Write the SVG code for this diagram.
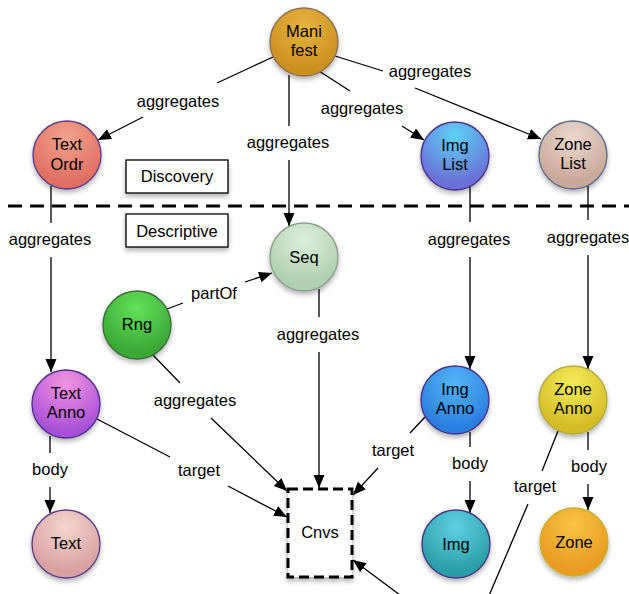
<svg xmlns="http://www.w3.org/2000/svg" width="629" height="594" viewBox="0 0 629 594">
<style>
text{font-family:"Liberation Sans",Arial,sans-serif;font-size:16.5px;fill:#000;text-anchor:middle}
.e{fill:none;stroke:#000;stroke-width:1.3}
.a{marker-end:url(#arr)}
.n{stroke-width:1.3;filter:url(#sh)}
.box{fill:#fff;stroke:#000;stroke-width:1.3;filter:url(#sh)}
</style>
<defs>
<marker id="arr" markerUnits="userSpaceOnUse" markerWidth="14" markerHeight="12" refX="13" refY="5.5" orient="auto"><path d="M0,0 L13,5.5 L0,11 z" fill="#000"/></marker>
<filter id="sh" x="-30%" y="-30%" width="160%" height="170%"><feDropShadow dx="0" dy="3" stdDeviation="2.5" flood-color="#000" flood-opacity="0.3"/></filter>
<radialGradient id="gMan" cx="50%" cy="30%" r="65%"><stop offset="0" stop-color="#e8b43e"/><stop offset="1" stop-color="#c98e1e"/></radialGradient>
<radialGradient id="gTO" cx="50%" cy="25%" r="65%"><stop offset="0" stop-color="#f3a48e"/><stop offset="1" stop-color="#e06e62"/></radialGradient>
<radialGradient id="gIL" cx="50%" cy="20%" r="70%"><stop offset="0" stop-color="#5cd2f4"/><stop offset="1" stop-color="#6a6fd6"/></radialGradient>
<radialGradient id="gZL" cx="50%" cy="25%" r="65%"><stop offset="0" stop-color="#ecd8cc"/><stop offset="1" stop-color="#c8a898"/></radialGradient>
<radialGradient id="gSeq" cx="50%" cy="25%" r="65%"><stop offset="0" stop-color="#dcefdc"/><stop offset="1" stop-color="#aed0ae"/></radialGradient>
<radialGradient id="gRng" cx="50%" cy="25%" r="65%"><stop offset="0" stop-color="#64e05a"/><stop offset="1" stop-color="#3aa834"/></radialGradient>
<radialGradient id="gTA" cx="50%" cy="20%" r="70%"><stop offset="0" stop-color="#f494e0"/><stop offset="1" stop-color="#a850d8"/></radialGradient>
<radialGradient id="gIA" cx="50%" cy="25%" r="65%"><stop offset="0" stop-color="#52b6f8"/><stop offset="1" stop-color="#2c7ee0"/></radialGradient>
<radialGradient id="gZA" cx="50%" cy="25%" r="65%"><stop offset="0" stop-color="#f4ec5a"/><stop offset="1" stop-color="#d4bc26"/></radialGradient>
<radialGradient id="gTx" cx="50%" cy="25%" r="65%"><stop offset="0" stop-color="#f4d6ce"/><stop offset="1" stop-color="#d8a0a0"/></radialGradient>
<radialGradient id="gImg" cx="50%" cy="25%" r="65%"><stop offset="0" stop-color="#5cd0e4"/><stop offset="1" stop-color="#2c9ea6"/></radialGradient>
<radialGradient id="gZn" cx="50%" cy="25%" r="65%"><stop offset="0" stop-color="#f8c442"/><stop offset="1" stop-color="#e89a22"/></radialGradient>
</defs>
<rect width="629" height="594" fill="#fff"/>

<line x1="8" y1="206" x2="629" y2="206" stroke="#000" stroke-width="3" stroke-dasharray="14 8"/>

<g id="connectors">
<path class="e a" d="M273,57 L217,83 M143,117 L98,140"/>
<text x="178" y="107">aggregates</text>
<path class="e a" d="M289,75 L289,126 M289,160 L289,226"/>
<text x="288" y="148">aggregates</text>
<path class="e a" d="M319,71 L350,91 M402,126 L424,140"/>
<text x="362" y="114">aggregates</text>
<path class="e a" d="M335,56 L383,71 M415,88 L541,139"/>
<text x="430" y="77">aggregates</text>
<path class="e a" d="M51,186 L51,223 M51,257 L51,372"/>
<text x="50" y="245">aggregates</text>
<path class="e a" d="M470,186 L470,222 M470,257 L470,369"/>
<text x="469" y="245">aggregates</text>
<path class="e a" d="M588,185 L588,220 M588,255 L588,369"/>
<text x="588" y="243">aggregates</text>
<path class="e a" d="M167,309 L183,303 M245,282 L272,273"/>
<text x="214" y="299">partOf</text>
<path class="e a" d="M319,289 L319,317 M319,352 L319,488"/>
<text x="318" y="340">aggregates</text>
<path class="e a" d="M153,355 L180,383 M211,418 L287,491"/>
<text x="195" y="406">aggregates</text>
<path class="e a" d="M97,419 L170,457 M228,486 L287,517"/>
<text x="199" y="476">target</text>
<path class="e a" d="M425,417 L410,433 M378,468 L353,495"/>
<text x="393" y="456">target</text>
<path class="e" d="M558,431 L542,471 M528,504 L488,598"/>
<text x="535" y="492">target</text>
<path class="e a" d="M404,598 L353,560"/>
<path class="e a" d="M50,436 L50,453 M50,487 L50,513"/>
<text x="50" y="475">body</text>
<path class="e a" d="M470,432 L470,447 M470,481 L470,513"/>
<text x="470" y="469">body</text>
<path class="e a" d="M588,432 L588,450 M588,484 L588,510"/>
<text x="589" y="472">body</text>
</g>

<g id="discovery"><rect class="box" x="126" y="160" width="102" height="33"/><text x="177" y="182">Discovery</text></g>
<g id="descriptive"><rect class="box" x="126" y="214" width="102" height="33"/><text x="177" y="237">Descriptive</text></g>

<g id="manifest"><circle class="n" cx="304" cy="42" r="34" fill="url(#gMan)" stroke="#8a7050"/><text x="304" y="37">Mani</text><text x="304" y="56">fest</text></g>
<g id="textordr"><circle class="n" cx="67" cy="155" r="34" fill="url(#gTO)" stroke="#5a3a8a"/><text x="67" y="150">Text</text><text x="67" y="170">Ordr</text></g>
<g id="imglist"><circle class="n" cx="455" cy="156" r="34" fill="url(#gIL)" stroke="#4a2e88"/><text x="455" y="151">Img</text><text x="455" y="170">List</text></g>
<g id="zonelist"><circle class="n" cx="573" cy="155" r="34" fill="url(#gZL)" stroke="#5a6a8a"/><text x="573" y="150">Zone</text><text x="573" y="169">List</text></g>
<g id="seq"><circle class="n" cx="304" cy="257" r="34" fill="url(#gSeq)" stroke="#8a9a8a"/><text x="304" y="263">Seq</text></g>
<g id="rng"><circle class="n" cx="137" cy="325" r="34" fill="url(#gRng)" stroke="#3a6a3a"/><text x="137" y="330">Rng</text></g>
<g id="textanno"><circle class="n" cx="66" cy="404" r="34" fill="url(#gTA)" stroke="#4a2e88"/><text x="66" y="399">Text</text><text x="66" y="418">Anno</text></g>
<g id="imganno"><circle class="n" cx="455" cy="400" r="34" fill="url(#gIA)" stroke="#4a2e88"/><text x="455" y="395">Img</text><text x="455" y="414">Anno</text></g>
<g id="zoneanno"><circle class="n" cx="573" cy="400" r="34" fill="url(#gZA)" stroke="#b0a840"/><text x="573" y="395">Zone</text><text x="573" y="414">Anno</text></g>
<g id="text"><circle class="n" cx="66" cy="544" r="34" fill="url(#gTx)" stroke="#5a3a8a"/><text x="66" y="549">Text</text></g>
<g id="img"><circle class="n" cx="456" cy="544" r="34" fill="url(#gImg)" stroke="#4a2e88"/><text x="456" y="550">Img</text></g>
<g id="zone"><circle class="n" cx="574" cy="542" r="34" fill="url(#gZn)" stroke="#c8b030"/><text x="574" y="548">Zone</text></g>
<g id="cnvs"><rect x="288" y="489" width="64" height="88" fill="#fff" stroke="#000" stroke-width="3" stroke-dasharray="10 5" filter="url(#sh)"/><text x="320" y="538">Cnvs</text></g>
</svg>
